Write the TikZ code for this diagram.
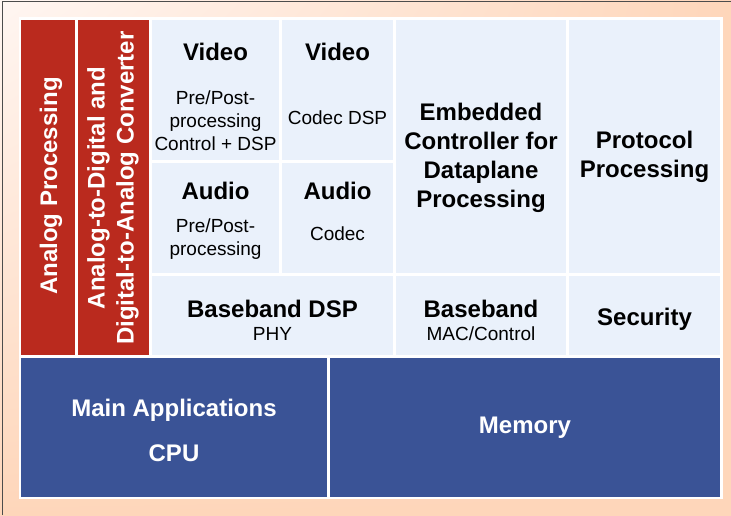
\documentclass[tikz,border=0pt]{standalone}
\usepackage{fontspec}
\setmainfont{Liberation Sans}
\usepackage{xcolor}
\usetikzlibrary{positioning,shadings}
\definecolor{panelred}{HTML}{BA2A1E}
\definecolor{panelblue}{HTML}{3A5396}
\definecolor{cellblue}{HTML}{EAF1FB}
\definecolor{peach}{HTML}{FED6BA}
\definecolor{peachlight}{HTML}{FFF6F2}
\tikzset{
  headtext/.style={font=\fontsize{24}{29}\selectfont\bfseries, align=center, inner sep=0pt},
  subtext/.style={font=\fontsize{19}{23}\selectfont, align=center, inner sep=0pt},
}

\begin{document}
\begin{tikzpicture}[x=1pt,y=-1pt]
    \useasboundingbox (0,0) rectangle (731,515);
    % background panel
    \shade[upper left=peachlight, upper right=peach, lower left=peach, lower right=peach] (0,0) rectangle (731,515);
    \draw[gray!60!black, line width=1.5pt] (2.5,515) -- (2.5,1.5) -- (731,1.5);
    \fill[white] (19,17) rectangle (723,499);

    % cells
    \foreach \xa/\ya/\xb/\yb/\col in {21/20/75/355/panelred, 78/20/149/355/panelred,
        152/20/279/160/cellblue, 282/20/393/160/cellblue,
        152/163/279/273/cellblue, 282/163/393/273/cellblue, 152/276/393/355/cellblue,
        396/20/566/273/cellblue, 569/20/720/273/cellblue,
        396/276/566/355/cellblue, 569/276/720/355/cellblue,
        21/358/327/497/panelblue, 330/358/720/497/panelblue} {
        \fill[\col] (\xa,\ya) rectangle (\xb,\yb);
    }

    % red columns
    \node[headtext, text=white, rotate=90] (analog) at (51,186) {Analog Processing};
    \node[headtext, text=white, rotate=90] (converter) at (113,188) {Analog-to-Digital and\\Digital-to-Analog Converter};

    % video and audio
    \node[headtext] (videopre) at (215.5,52) {Video};
    \node[subtext] (videopresub) at (215.5,121) {Pre/Post-\\processing\\Control + DSP};
    \node[headtext] (videocodec) at (337.5,52) {Video};
    \node[subtext] (videocodecsub) at (337.5,118) {Codec DSP};
    \node[headtext] (audiopre) at (215.5,191) {Audio};
    \node[subtext] (audiopresub) at (215.5,239) {Pre/Post-\\processing};
    \node[headtext] (audiocodec) at (337.5,191) {Audio};
    \node[subtext] (audiocodecsub) at (337.5,234) {Codec};
    \node[headtext] (bbdsp) at (272.5,309) {Baseband DSP};
    \node[subtext] (phy) at (272.5,334) {PHY};

    % control and protocol
    \node[headtext] (embedded) at (481,158) {Embedded\\Controller for\\Dataplane\\Processing};
    \node[headtext] (protocol) at (644.5,157) {Protocol\\Processing};
    \node[headtext] (bbmac) at (481,309) {Baseband};
    \node[subtext] (mac) at (481,334) {MAC/Control};
    \node[headtext] (security) at (644.5,319) {Security};

    % blue row
    \node[headtext, text=white] (mainapp) at (174,410) {Main Applications};
    \node[headtext, text=white] (cpu) at (174,453) {CPU};
    \node[headtext, text=white] (memory) at (525,428) {Memory};
\end{tikzpicture}
\end{document}
